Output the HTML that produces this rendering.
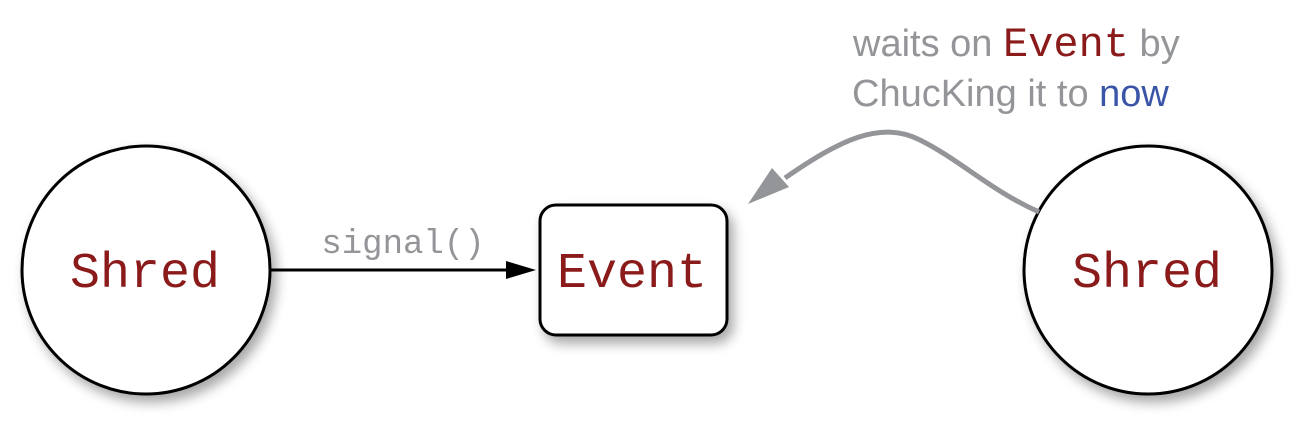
<!DOCTYPE html>
<html><head><style>
body{margin:0;background:#fff;width:1310px;height:426px;overflow:hidden}
</style></head><body>
<svg width="1310" height="426" xmlns="http://www.w3.org/2000/svg">
<defs><filter id="sh" x="-30%" y="-30%" width="160%" height="160%"><feGaussianBlur in="SourceAlpha" stdDeviation="6"/><feOffset dx="5" dy="7"/><feComponentTransfer><feFuncA type="linear" slope="0.35"/></feComponentTransfer><feMerge><feMergeNode/><feMergeNode in="SourceGraphic"/></feMerge></filter></defs>
<circle cx="146" cy="270" r="124" fill="#fff" stroke="#000" stroke-width="3" filter="url(#sh)"/>
<circle cx="1148" cy="270" r="124" fill="#fff" stroke="#000" stroke-width="3" filter="url(#sh)"/>
<rect x="540" y="205" width="187" height="130" rx="16" fill="#fff" stroke="#000" stroke-width="3" filter="url(#sh)"/>
<g font-family="Liberation Mono, monospace" fill="#8b1a1a" font-size="50" text-anchor="middle">
<text x="145" y="287">Shred</text>
<text x="1147" y="287">Shred</text>
<text x="632" y="287">Event</text>
</g>
<line x1="270" y1="270" x2="510" y2="270" stroke="#000" stroke-width="3"/>
<polygon points="536,270 506,261 506,279" fill="#000"/>
<text x="403" y="253" text-anchor="middle" font-family="Liberation Mono, monospace" font-size="34" fill="#939598">signal()</text>
<path d="M1039,212 C990,190 960,160 920,140 C880,120 840,140 785,178" fill="none" stroke="#939598" stroke-width="5"/>
<polygon points="748,204 772,168 789,187" fill="#939598"/>
<g font-family="Liberation Sans, sans-serif" font-size="38" fill="#939598">
<text x="853" y="56">waits on <tspan font-family="Liberation Mono, monospace" fill="#8b1a1a" font-size="42">Event</tspan> by</text>
<text x="852" y="106">ChucKing it to <tspan fill="#3a55a8">now</tspan></text>
</g>
</svg>
</body></html>
